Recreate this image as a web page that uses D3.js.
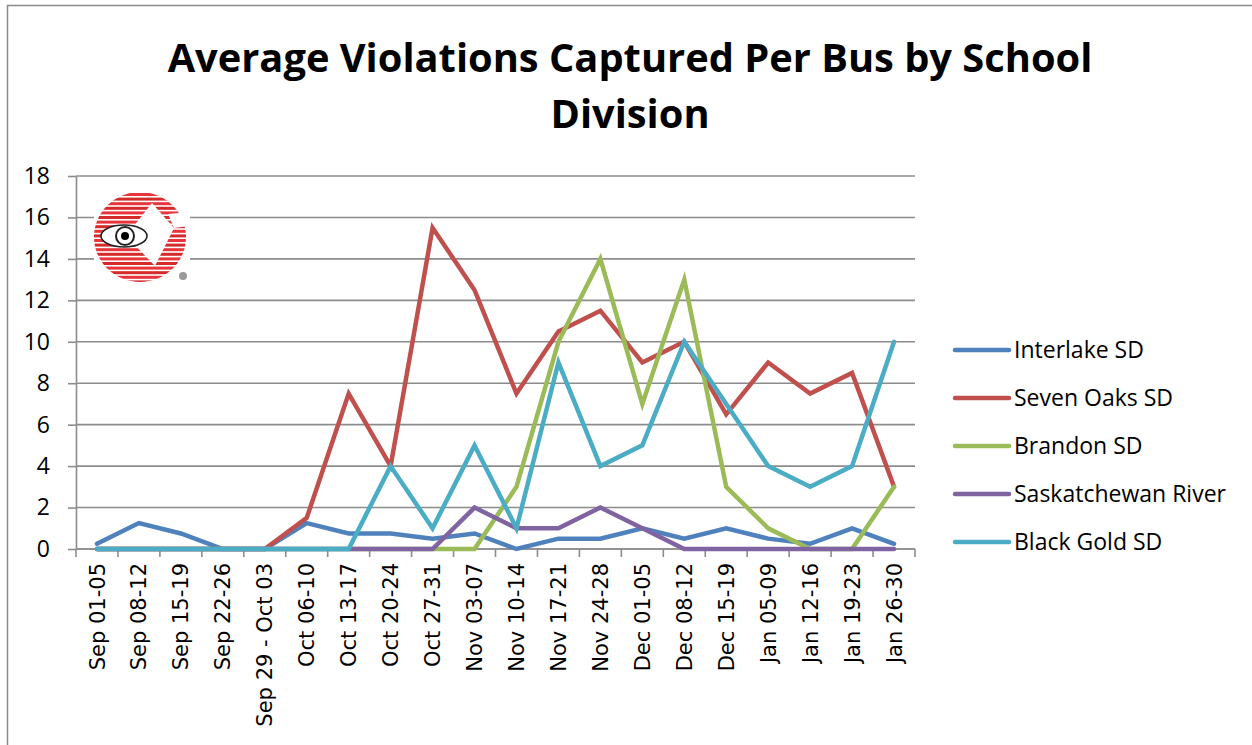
<!DOCTYPE html>
<html>
<head>
<meta charset="utf-8">
<script src="https://cdn.jsdelivr.net/npm/d3@7"></script>
<style>
  body { margin: 0; background: #fff; }
  svg { display: block; }
</style>
</head>
<body>
<svg id="chart"></svg>
<script>
var width = 1252;
var height = 745;

// DATA
var weeks = ["Sep 01-05", "Sep 08-12", "Sep 15-19", "Sep 22-26", "Sep 29 - Oct 03",
  "Oct 06-10", "Oct 13-17", "Oct 20-24", "Oct 27-31", "Nov 03-07", "Nov 10-14",
  "Nov 17-21", "Nov 24-28", "Dec 01-05", "Dec 08-12", "Dec 15-19", "Jan 05-09",
  "Jan 12-16", "Jan 19-23", "Jan 26-30"];
var interlake = [0.25, 1.25, 0.75, 0, 0, 1.25, 0.75, 0.75, 0.5, 0.75, 0, 0.5, 0.5, 1, 0.5, 1, 0.5, 0.25, 1, 0.25];
var sevenOaks = [0, 0, 0, 0, 0, 1.5, 7.5, 4, 15.5, 12.5, 7.5, 10.5, 11.5, 9, 10, 6.5, 9, 7.5, 8.5, 3];
var brandon = [0, 0, 0, 0, 0, 0, 0, 0, 0, 0, 3, 10, 14, 7, 13, 3, 1, 0, 0, 3];
var saskRiver = [0, 0, 0, 0, 0, 0, 0, 0, 0, 2, 1, 1, 2, 1, 0, 0, 0, 0, 0, 0];
var blackGold = [0, 0, 0, 0, 0, 0, 0, 4, 1, 5, 1, 9, 4, 5, 10, 7, 4, 3, 4, 10];
var seriesNames = ["Interlake SD", "Seven Oaks SD", "Brandon SD", "Saskatchewan River", "Black Gold SD"];
var seriesColors = ["#4f81bd", "#c0504d", "#9bbb59", "#8064a2", "#4bacc6"];
var yTicks = [0, 2, 4, 6, 8, 10, 12, 14, 16, 18];

var allSeries = [interlake, sevenOaks, brandon, saskRiver, blackGold];

var plot = { left: 76, right: 915, top: 176, bottom: 549 };

var svg = d3.select("#chart").attr("width", width).attr("height", height);

// chart frame (runs off the right and bottom edges)
svg.append("rect")
  .attr("x", 7.5).attr("y", 5.5)
  .attr("width", 1400).attr("height", 900)
  .attr("fill", "#fff")
  .attr("stroke", "#8a8a8a")
  .attr("stroke-width", 1.5);

var xScale = d3.scaleBand()
  .domain(weeks)
  .range([plot.left, plot.right])
  .padding(0);
var xc = (d) => xScale(d) + xScale.bandwidth() / 2;

var yScale = d3.scaleLinear()
  .domain([0, 18])
  .range([plot.bottom, plot.top]);

// gridlines
svg.append("g")
  .selectAll("line")
  .data(yTicks)
  .enter()
  .append("line")
  .attr("x1", plot.left).attr("x2", plot.right)
  .attr("y1", (d) => yScale(d)).attr("y2", (d) => yScale(d))
  .attr("stroke", "#8c8c8c")
  .attr("stroke-width", 1.6);

// y axis
var yAxis = d3.axisLeft(yScale)
  .tickValues(yTicks)
  .tickSize(8)
  .tickPadding(18)
  .tickSizeOuter(0);
var gy = svg.append("g")
  .attr("transform", `translate(${plot.left}, 0)`)
  .call(yAxis);
gy.select(".domain").attr("stroke", "#8c8c8c").attr("stroke-width", 1.6);
gy.selectAll(".tick line").attr("stroke", "#8c8c8c").attr("stroke-width", 1.6);
gy.selectAll(".tick text")
  .style("font-family", "'Open Sans', sans-serif")
  .style("font-size", "23px")
  .attr("fill", "#000");

// x axis: line + ticks on the category boundaries
var gx = svg.append("g");
gx.append("line")
  .attr("x1", plot.left).attr("x2", plot.right)
  .attr("y1", plot.bottom).attr("y2", plot.bottom)
  .attr("stroke", "#8c8c8c").attr("stroke-width", 1.6);
var bounds = weeks.map((d) => xScale(d)).concat([plot.right]);
gx.selectAll("line.tk")
  .data(bounds)
  .enter()
  .append("line")
  .attr("class", "tk")
  .attr("x1", (d) => d).attr("x2", (d) => d)
  .attr("y1", plot.bottom).attr("y2", plot.bottom + 8)
  .attr("stroke", "#8c8c8c").attr("stroke-width", 1.6);
gx.selectAll("text")
  .data(weeks)
  .enter()
  .append("text")
  .attr("transform", (d) => `translate(${xc(d)}, ${plot.bottom + 14}) rotate(-90)`)
  .attr("dy", "0.36em")
  .style("text-anchor", "end")
  .style("font-family", "'DejaVu Sans', sans-serif")
  .style("font-size", "21px")
  .text((d) => d);

// logo (decoration in the top-left of the plot)
var logo = svg.append("g");
var defs = svg.append("defs");
defs.append("clipPath").attr("id", "logoClip")
  .append("ellipse").attr("cx", 140).attr("cy", 237).attr("rx", 46).attr("ry", 45);
logo.append("rect")
  .attr("x", 94).attr("y", 192).attr("width", 96).attr("height", 92)
  .attr("fill", "#fff");
var stripes = logo.append("g").attr("clip-path", "url(#logoClip)");
d3.range(20).forEach(function (k) {
  stripes.append("rect")
    .attr("x", 94).attr("y", 193 + k * 4.6)
    .attr("width", 96).attr("height", 3)
    .attr("fill", k % 2 ? "#d42a2a" : "#e8343a");
});
logo.append("polygon")
  .attr("points", "152,203 174,228 155,266 126,236")
  .attr("fill", "#fff");
logo.append("polygon")
  .attr("points", "168,214 190,212 190,226 174,228")
  .attr("fill", "#fff");
logo.append("ellipse")
  .attr("cx", 124).attr("cy", 236).attr("rx", 23).attr("ry", 11)
  .attr("fill", "#fff").attr("stroke", "#222").attr("stroke-width", 1.6);
logo.append("circle")
  .attr("cx", 125).attr("cy", 236).attr("r", 9)
  .attr("fill", "#fff").attr("stroke", "#222").attr("stroke-width", 2);
logo.append("circle")
  .attr("cx", 125).attr("cy", 236).attr("r", 4)
  .attr("fill", "#000");
logo.append("circle")
  .attr("cx", 183).attr("cy", 276).attr("r", 4)
  .attr("fill", "#9a9a9a");

// lines
var line = d3.line()
  .x((d, i) => xc(weeks[i]))
  .y((d) => yScale(d));

svg.append("g")
  .selectAll("path")
  .data(allSeries)
  .enter()
  .append("path")
  .attr("d", line)
  .attr("fill", "none")
  .attr("stroke", (d, i) => seriesColors[i])
  .attr("stroke-width", 4.5)
  .attr("stroke-linejoin", "miter")
  .attr("stroke-linecap", "round");

// legend
var legend = svg.append("g")
  .selectAll("g")
  .data(seriesNames)
  .enter()
  .append("g")
  .attr("transform", (d, i) => `translate(955, ${350 + i * 48})`);
legend.append("line")
  .attr("x1", 0).attr("x2", 54)
  .attr("stroke", (d, i) => seriesColors[i])
  .attr("stroke-width", 4.5)
  .attr("stroke-linecap", "round");
legend.append("text")
  .attr("x", 59)
  .attr("y", 8)
  .style("font-family", "'Open Sans', sans-serif")
  .style("font-size", "23px")
  .text((d) => d);

// CHART TITLE - two lines, fit to the width of the original
var titleLines = ["Average Violations Captured Per Bus by School", "Division"];
var title = svg.append("g")
  .selectAll("text")
  .data(titleLines)
  .enter()
  .append("text")
  .attr("x", 630)
  .attr("y", (d, i) => 72 + i * 56)
  .style("text-anchor", "middle")
  .style("font-family", "'Open Sans', sans-serif")
  .style("font-weight", "bold")
  .style("font-size", "40px")
  .text((d) => d);
var w0 = title.nodes()[0].getComputedTextLength();
var fs = 40 * 925 / w0;
title.style("font-size", fs + "px");
</script>
</body>
</html>
